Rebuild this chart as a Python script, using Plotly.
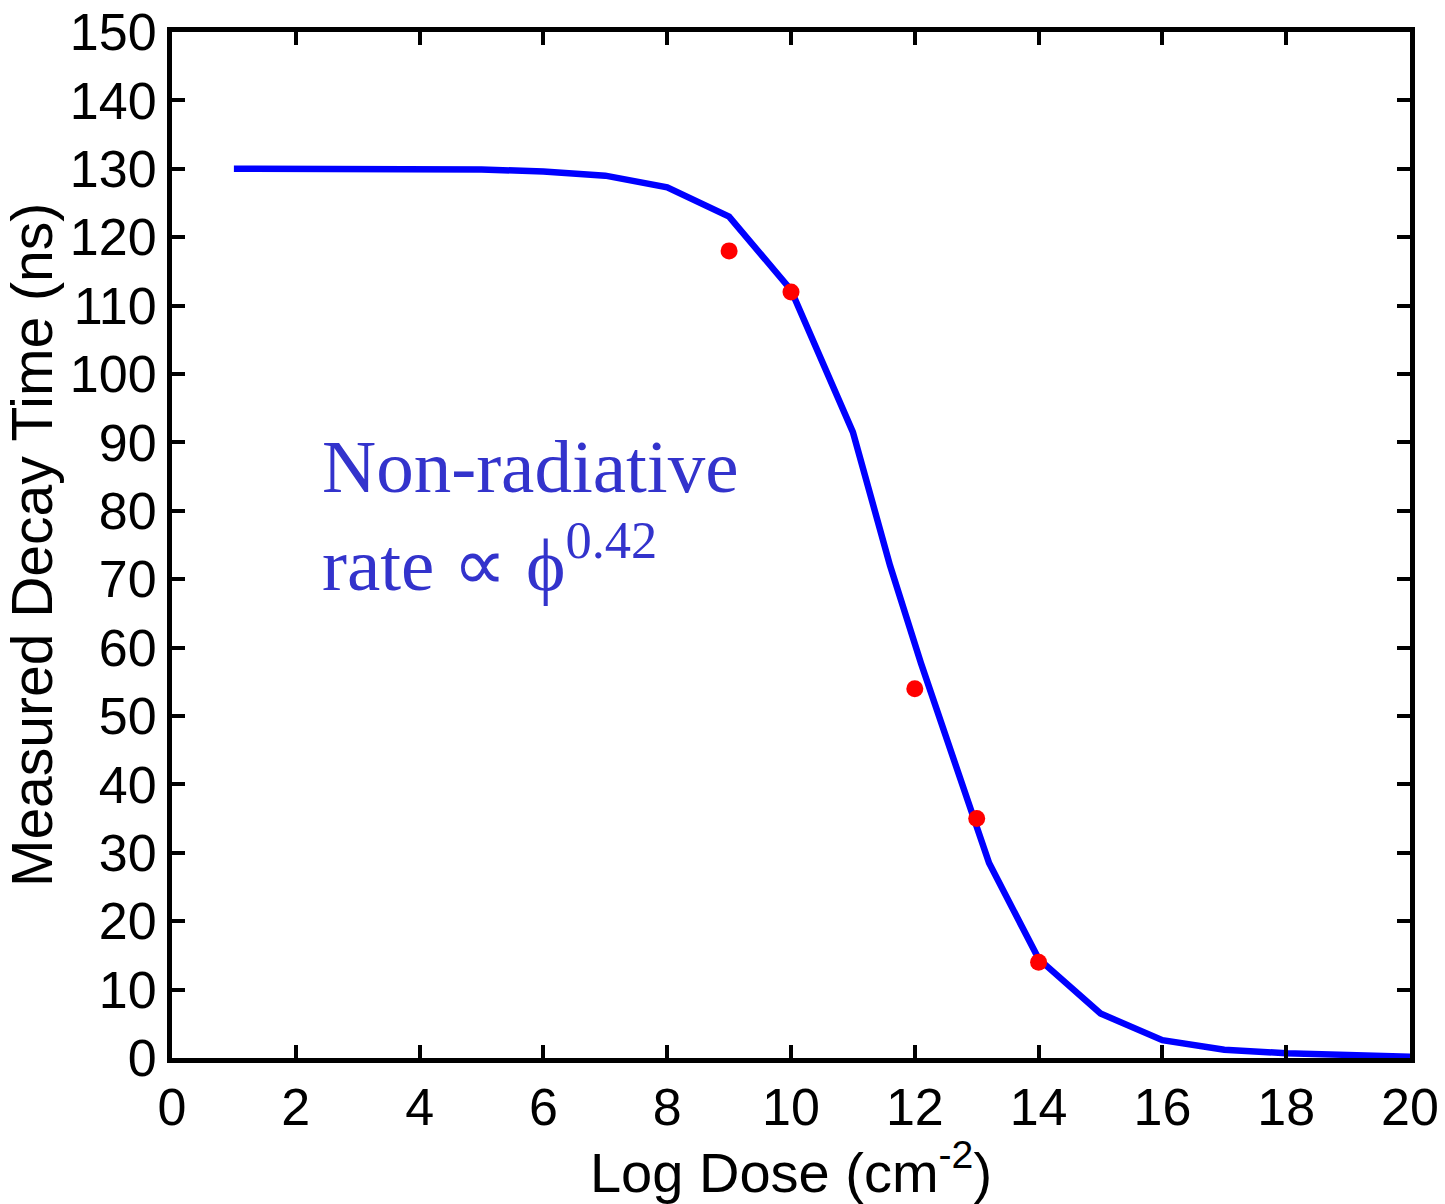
import plotly.graph_objects as go

# Fitted curve (log dose, decay time in ns)
curve_x = [1, 2, 3, 4, 5, 6, 7, 8, 9, 10, 10.4, 11, 11.6, 12.1, 13, 13.2, 14, 15, 16, 17, 18, 19, 20]
curve_y = [130, 130, 130, 130, 129.9, 129.6, 129, 127.3, 123, 112.3, 104, 91.5, 72, 57.7, 33.8, 28.5, 14.5, 6.5, 2.6, 1.2, 0.7, 0.4, 0.2]

# Measured data points
meas_x = [9, 10, 12, 13, 14]
meas_y = [118, 112, 54, 35, 14]

x_ticks = list(range(0, 21, 2))
y_ticks = list(range(0, 151, 10))

fig = go.Figure()
fig.add_trace(go.Scatter(x=curve_x, y=curve_y, mode="lines",
                         line=dict(color="#0000ff", width=6.5), showlegend=False))
fig.add_trace(go.Scatter(x=meas_x, y=meas_y, mode="markers",
                         marker=dict(color="#ff0000", size=17, line=dict(width=0)),
                         showlegend=False))

axis_common = dict(showline=True, linecolor="black", linewidth=5, mirror="ticks",
                   ticks="inside", ticklen=13, tickwidth=4, tickcolor="black",
                   showgrid=False, zeroline=False, automargin=False,
                   tickfont=dict(family="Liberation Sans, Arial, sans-serif", size=52, color="black"))

fig.update_xaxes(range=[0, 20], tickvals=x_ticks, ticktext=[str(v) for v in x_ticks],
                 title=dict(text="Log Dose (cm<sup>-2</sup>)", standoff=24,
                            font=dict(family="Liberation Sans, Arial, sans-serif", size=56, color="black")),
                 **axis_common)
fig.update_yaxes(range=[0, 150], tickvals=y_ticks, ticktext=[str(v) for v in y_ticks],
                 title=dict(text="Measured Decay Time (ns)", standoff=0,
                            font=dict(family="Liberation Sans, Arial, sans-serif", size=57, color="black")),
                 **axis_common)

ann_font = dict(family="Liberation Serif, Times New Roman, serif", size=75, color="#3333cc")
fig.add_annotation(x=2.39, y=65.8, xref="x", yref="y", xanchor="left", yanchor="bottom",
                   text="Non-radiative<br>rate ∝ ϕ<sup>0.42</sup>", showarrow=False, align="left",
                   font=ann_font)

fig.update_layout(width=1445, height=1204, margin=dict(l=172, r=35, t=32, b=146),
                  plot_bgcolor="white", paper_bgcolor="white")

fig.write_html("out.html")
